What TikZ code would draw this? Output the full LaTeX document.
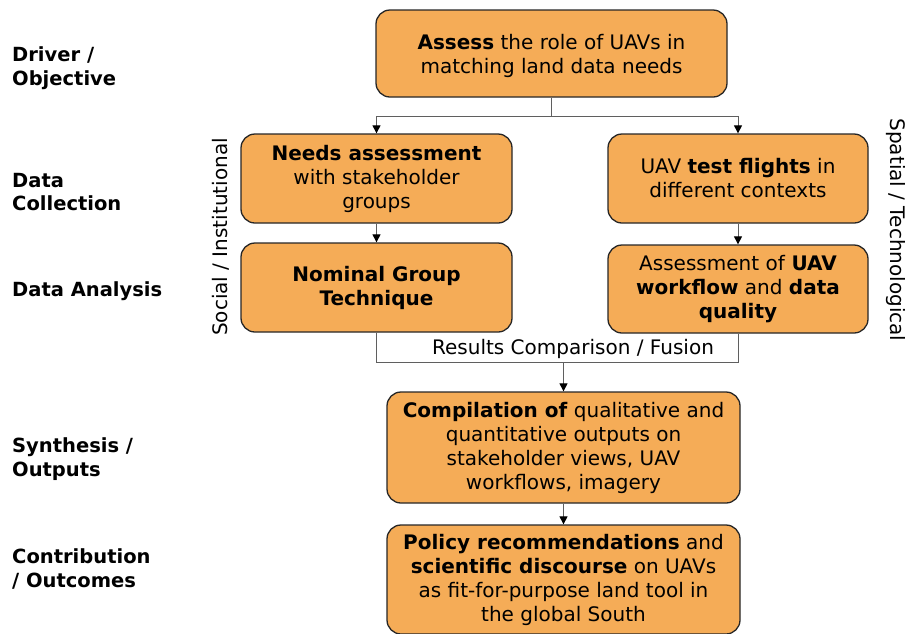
\documentclass[tikz,border=0pt]{standalone}
\usepackage{fontspec}
\setmainfont{DejaVu Sans}
\usetikzlibrary{arrows.meta}
\definecolor{boxorange}{RGB}{245,172,87}
\definecolor{linkgray}{RGB}{95,95,95}
\begin{document}
\begin{tikzpicture}[x=1pt,y=-1pt,
  stepbox/.style={draw=black!85, line width=1.3pt, fill=boxorange, rounded corners=14pt,
    align=center, inner sep=0pt, font=\fontsize{20}{24}\selectfont},
  rowlabel/.style={anchor=west, align=left, inner sep=0pt, font=\fontsize{19.5}{23.5}\selectfont\bfseries},
  sidelabel/.style={inner sep=0pt, font=\fontsize{20}{24}\selectfont},
  link/.style={draw=linkgray, line width=1pt},
  arr/.style={link, -{Triangle[width=8pt,length=8pt,color=black]}}]
\useasboundingbox (0,0) rectangle (905,633);

% process boxes
\node[stepbox, minimum width=351pt, minimum height=87pt] (assess) at (551.5,53.5) {};
\node[align=center, inner sep=0pt, font=\fontsize{20}{24}\selectfont] (assesstext) at (551.5,56)
  {\textbf{Assess} the role of UAVs in\\matching land data needs};
\node[stepbox, minimum width=271pt, minimum height=89pt] (needs) at (376.5,178.5)
  {\textbf{Needs assessment}\\with stakeholder\\groups};
\node[stepbox, minimum width=271pt, minimum height=89pt] (nominal) at (376.5,287.5)
  {\textbf{Nominal Group}\\\textbf{Technique}};
\node[stepbox, minimum width=260pt, minimum height=89pt] (flights) at (738,178.5)
  {UAV \textbf{test flights} in\\different contexts};
\node[stepbox, minimum width=260pt, minimum height=88pt] (workflow) at (738,289)
  {Assessment of \textbf{UAV}\\\textbf{workflow} and \textbf{data}\\\textbf{quality}};
\node[stepbox, minimum width=353pt, minimum height=111pt] (compile) at (563.5,447.5)
  {\textbf{Compilation of} qualitative and\\quantitative outputs on\\stakeholder views, UAV\\workflows, imagery};
\node[stepbox, minimum width=353pt, minimum height=109pt] (policy) at (563.5,579.5)
  {\textbf{Policy recommendations} and\\\textbf{scientific discourse} on UAVs\\as fit-for-purpose land tool in\\the global South};

% stage labels
\node[rowlabel] (driver) at (12,68) {Driver /\\Objective};
\node[rowlabel] (collect) at (12,192) {Data\\Collection};
\node[rowlabel] (analysis) at (12,291) {Data Analysis};
\node[rowlabel] (synth) at (12,459) {Synthesis /\\Outputs};
\node[rowlabel] (contrib) at (12,569) {Contribution\\/ Outcomes};

% strand labels
\node[sidelabel, rotate=90] (social) at (221,237) {Social / Institutional};
\node[sidelabel, rotate=-90] (spatial) at (896,230) {Spatial / Technological};

% connectors
\coordinate (split) at (0,116);
\coordinate (merge) at (0,362);
\draw[link] (assess.south) -- (assess.south |- split);
\draw[arr] (assess.south |- split) -| (needs.north);
\draw[arr] (assess.south |- split) -| (flights.north);
\draw[arr] (needs.south) -- (nominal.north);
\draw[arr] (flights.south) -- (workflow.north);
\draw[link] (nominal.south) |- (merge -| workflow.south) -- (workflow.south);
\node[sidelabel] (fusion) at (573,349) {Results Comparison / Fusion};
\draw[arr] (compile.north |- merge) -- (compile.north);
\draw[arr] (compile.south) -- (policy.north);
\end{tikzpicture}
\end{document}
